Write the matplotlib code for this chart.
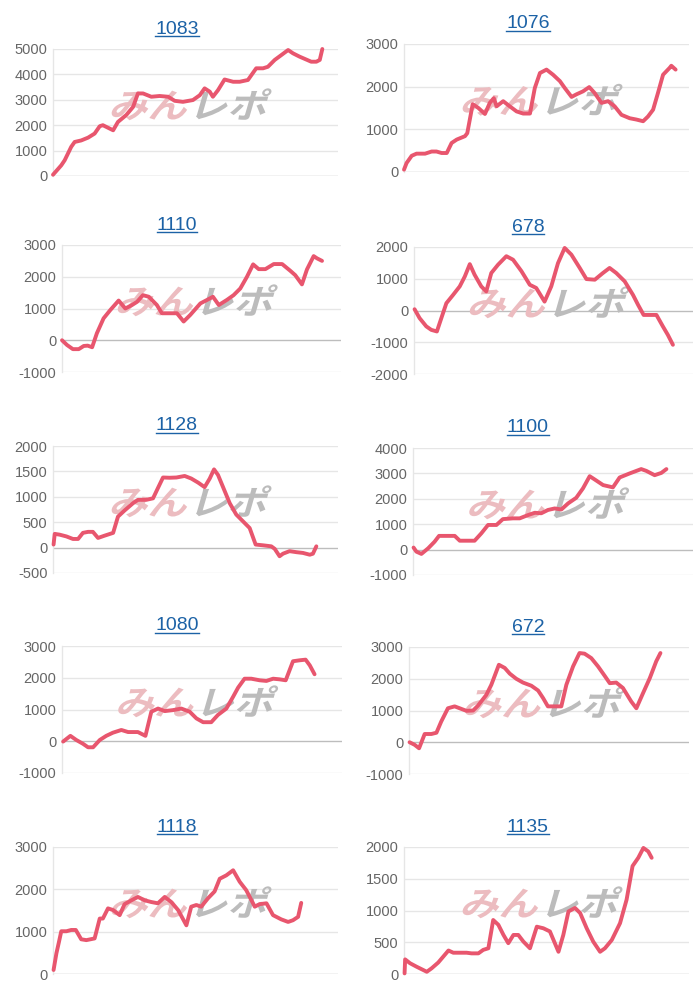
"""
Ten small profit charts (machine numbers) in a 5 x 2 grid
"""

import matplotlib
matplotlib.use('Agg')
import matplotlib.pyplot as plt
from matplotlib.lines import Line2D
from matplotlib.patches import PathPatch
from matplotlib.textpath import TextPath
from matplotlib.font_manager import FontProperties
from matplotlib.transforms import Affine2D, ScaledTranslation

# Chart titles (machine numbers)
titles = ['1083', '1076', '1110', '678', '1128', '1100', '1080', '672', '1118', '1135']

# x = position along the day (percent of the axis), y = difference in coins
x_1083 = [0, 2.9, 4.1, 6.4, 7.6, 9.9, 12.3, 14.6, 16.4, 17.5, 19.3, 21.1, 22.8, 25.7, 28.1,
          29.8, 31.6, 34.5, 37.4, 40.4, 42.7, 45.6, 49.1, 51.5, 53.2, 55.0, 56.1, 57.9, 60.2,
          63.2, 65.5, 68.4, 71.3, 73.7, 75.4, 77.8, 80.1, 82.5, 84.2, 86.5, 90.6, 92.4, 93.6, 94.5]
y_1083 = [50, 420, 620, 1150, 1340, 1400, 1510, 1670, 1960, 2000, 1900, 1800, 2130, 2400, 2720,
          3250, 3250, 3120, 3150, 3120, 2960, 2920, 2990, 3180, 3450, 3320, 3120, 3380, 3800,
          3710, 3710, 3780, 4240, 4240, 4300, 4570, 4760, 4960, 4830, 4700, 4500, 4500, 4570, 5000]

x_1076 = [0, 0.9, 2.7, 4.4, 7.4, 9.7, 11.4, 13.2, 15.0, 16.7, 18.5, 21.4, 22.2, 24.1, 26.1,
          28.4, 30.1, 31.5, 32.5, 34.8, 37.1, 39.5, 41.8, 44.2, 45.9, 47.7, 50.0, 52.3, 54.7,
          56.4, 58.8, 60.5, 62.8, 65.0, 66.9, 69.3, 71.6, 73.9, 76.3, 79.2, 81.5, 83.9, 85.6,
          87.4, 89.1, 90.9, 93.2, 93.8, 95.3]
y_1076 = [55, 210, 380, 430, 430, 480, 480, 445, 445, 680, 760, 840, 910, 1590, 1500,
          1360, 1620, 1730, 1540, 1660, 1540, 1420, 1370, 1370, 1970, 2320, 2400, 2280, 2130,
          1970, 1760, 1820, 1890, 1990, 1850, 1620, 1660, 1540, 1340, 1260, 1230, 1190, 1300,
          1460, 1850, 2280, 2440, 2490, 2400]

x_1110 = [0, 1.8, 3.9, 6.0, 7.8, 9.2, 10.8, 12.5, 14.9, 17.3, 20.3, 22.7, 25.1, 26.9, 29.0,
          31.1, 34.0, 35.8, 38.2, 41.2, 43.6, 46.0, 49.6, 52.0, 54.1, 56.2, 59.1, 61.5, 63.9,
          66.3, 68.5, 70.5, 72.9, 75.9, 78.9, 81.8, 83.6, 86.0, 87.8, 90.2, 91.4, 93.2]
y_1110 = [0, -150, -280, -280, -180, -170, -220, 220, 690, 950, 1250, 1000, 1110, 1210, 1420,
          1370, 1110, 850, 850, 850, 590, 800, 1160, 1270, 1370, 1110, 1270, 1420, 1630,
          2000, 2390, 2240, 2240, 2400, 2400, 2190, 2050, 1760, 2230, 2650, 2580, 2500]

x_678 = [0.2, 2.0, 4.4, 6.2, 8.2, 9.8, 11.6, 14.0, 16.4, 18.2, 20.0, 21.7, 24.1, 25.9, 27.7,
         30.1, 33.1, 35.5, 38.5, 41.5, 43.8, 46.8, 49.2, 51.6, 54.0, 56.4, 59.4, 61.8, 64.8,
         67.7, 70.1, 72.5, 75.5, 78.5, 80.3, 82.3, 84.5, 86.9, 89.2, 91.0, 92.8]
y_678 = [40, -240, -500, -610, -660, -240, 230, 490, 760, 1070, 1460, 1130, 760, 600, 1180,
         1440, 1710, 1600, 1240, 810, 710, 280, 760, 1490, 1970, 1760, 1340, 990, 970,
         1180, 1340, 1180, 920, 490, 180, -140, -140, -140, -500, -770, -1080]

x_1128 = [0.2, 0.6, 2.3, 4.7, 7.0, 8.8, 10.5, 12.3, 14.0, 15.8, 18.1, 21.1, 22.8, 25.1, 28.1,
          29.8, 32.7, 35.1, 36.8, 38.6, 40.9, 43.3, 46.2, 48.5, 50.9, 53.2, 55.0, 56.5, 57.9,
          59.6, 62.0, 64.3, 66.7, 69.0, 71.1, 73.7, 76.6, 77.8, 79.5, 80.7, 83.0, 85.4, 87.7,
          90.1, 91.2, 92.4]
y_1128 = [60, 270, 255, 220, 170, 170, 290, 310, 310, 190, 235, 290, 610, 730, 875,
          940, 940, 970, 1170, 1380, 1375, 1380, 1410, 1360, 1280, 1190, 1360, 1540, 1430,
          1200, 875, 650, 515, 385, 60, 45, 25, -25, -170, -120, -70, -90, -105,
          -140, -120, 25]

x_1100 = [0.2, 1.2, 3.0, 5.4, 7.7, 9.3, 11.9, 14.9, 16.7, 19.0, 22.0, 24.4, 26.8, 29.8, 32.1,
          35.7, 38.1, 41.1, 43.5, 45.8, 48.2, 50.6, 53.0, 55.4, 58.3, 60.7, 63.1, 64.9, 67.9,
          71.4, 73.8, 77.4, 81.5, 83.3, 86.3, 88.7, 90.5]
y_1100 = [80, -80, -170, 50, 310, 540, 540, 540, 350, 350, 350, 640, 970, 970, 1200,
          1230, 1230, 1360, 1450, 1430, 1560, 1620, 1580, 1820, 2040, 2410, 2890, 2760, 2540,
          2450, 2840, 3000, 3170, 3100, 2930, 3020, 3170]

x_1080 = [0.4, 3.0, 5.1, 7.5, 9.3, 11.1, 13.5, 15.8, 18.2, 21.2, 23.6, 27.1, 29.8, 31.9, 34.3,
          36.7, 39.6, 42.6, 45.6, 48.0, 50.4, 53.3, 55.7, 58.7, 61.1, 62.9, 65.2, 67.6, 70.6,
          73.0, 75.4, 77.7, 79.9, 82.5, 84.9, 87.0, 88.5, 90.2]
y_1080 = [-10, 170, 40, -80, -190, -190, 40, 170, 270, 355, 290, 290, 170, 930, 1030,
          950, 980, 1030, 930, 720, 600, 600, 830, 1030, 1400, 1690, 1970, 1970, 1920,
          1900, 1970, 1950, 1920, 2520, 2550, 2570, 2390, 2110]

x_672 = [0.2, 2.0, 3.6, 5.6, 8.0, 9.8, 11.5, 13.9, 16.3, 18.1, 20.5, 22.9, 24.6, 27.6, 29.4,
         32.1, 34.2, 36.0, 38.3, 40.7, 43.7, 46.1, 47.9, 49.6, 52.0, 54.4, 56.2, 58.6, 60.9,
         62.7, 65.1, 67.5, 69.9, 71.7, 74.0, 76.4, 79.4, 81.2, 83.6, 86.0, 88.3, 89.8]
y_672 = [0, -80, -190, 260, 260, 300, 650, 1070, 1130, 1070, 990, 1000, 1150, 1490, 1810,
         2440, 2340, 2160, 2000, 1880, 1780, 1630, 1390, 1130, 1130, 1130, 1810, 2390, 2810,
         2790, 2650, 2390, 2090, 1860, 1880, 1710, 1280, 1070, 1550, 2020, 2550, 2810]

x_1118 = [0.2, 1.2, 2.1, 2.9, 4.7, 6.4, 8.0, 9.9, 11.7, 14.6, 16.4, 17.5, 19.3, 21.1, 23.4,
          25.1, 27.5, 29.8, 32.2, 34.5, 36.8, 39.2, 41.5, 43.9, 46.8, 48.5, 50.3, 52.0, 54.4,
          56.7, 58.5, 60.8, 63.2, 65.5, 67.8, 70.8, 72.5, 74.9, 77.2, 80.1, 82.5, 84.2, 86.0, 87.1]
y_1118 = [95, 490, 760, 1010, 1010, 1040, 1040, 820, 800, 840, 1310, 1310, 1550, 1510, 1390,
          1650, 1740, 1820, 1740, 1700, 1670, 1820, 1700, 1510, 1150, 1590, 1630, 1590, 1790,
          1950, 2250, 2330, 2450, 2180, 1980, 1590, 1650, 1670, 1390, 1290, 1230, 1270, 1350, 1680]

x_1135 = [0.2, 0.4, 2.1, 4.4, 6.2, 8.0, 9.7, 12.0, 13.8, 15.6, 17.3, 19.6, 22.0, 23.7, 26.1,
          27.8, 29.6, 31.3, 33.1, 34.9, 36.6, 38.4, 40.1, 41.9, 44.2, 46.6, 48.9, 51.2, 54.2,
          55.9, 57.7, 60.0, 61.8, 64.1, 66.4, 68.8, 70.5, 72.9, 75.8, 78.1, 80.2, 82.2, 84.0,
          85.7, 86.9]
y_1135 = [10, 230, 170, 115, 75, 35, 90, 180, 275, 370, 335, 335, 335, 325, 325,
          380, 405, 850, 775, 615, 485, 615, 615, 510, 405, 745, 720, 670, 350, 615,
          985, 1040, 960, 720, 510, 350, 405, 535, 800, 1170, 1700, 1830, 1985, 1930, 1830]

xs = [x_1083, x_1076, x_1110, x_678, x_1128, x_1100, x_1080, x_672, x_1118, x_1135]
ys = [y_1083, y_1076, y_1110, y_678, y_1128, y_1100, y_1080, y_672, y_1118, y_1135]

# y axis range and step for each chart
y_mins = [0, 0, -1000, -2000, -500, -1000, -1000, -1000, 0, 0]
y_maxs = [5000, 3000, 3000, 2000, 2000, 4000, 3000, 3000, 3000, 2000]
y_steps = [1000, 1000, 1000, 1000, 500, 1000, 1000, 1000, 1000, 500]

# axes boxes in pixels: left, top, right, bottom (figure is 700 x 1000)
boxes = [(53, 49, 338, 176), (404, 44, 689, 172),
         (62, 245, 341, 372), (414, 247, 693, 374),
         (53, 446, 338, 573), (413, 448, 693, 575),
         (62, 646, 342, 773), (409, 647, 689, 774),
         (53, 847, 338, 974), (404, 847, 689, 974)]

W, H = 700, 1000
LINE = '#e8566e'
LINK = '#1c62a6'
GRID = '#e6e6e6'
ZERO = '#bdbdbd'
TICK = '#666666'

plt.rcParams['font.family'] = ['Liberation Sans', 'DejaVu Sans']

fig = plt.figure(figsize=(7, 10), dpi=100)
fig.patch.set_facecolor('white')

wm_font = FontProperties(family='Noto Sans CJK JP', weight='bold')


# Draw the faint site logo behind the line
def add_watermark(ax):
    p1 = TextPath((0, 0), 'みん', size=1, prop=wm_font)
    p2 = TextPath((0, 0), 'レポ', size=1, prop=wm_font)
    w1 = p1.get_extents().x1
    w2 = p2.get_extents().x1
    gap = 0.08
    total = w1 + gap + w2
    em = 0.34  # inches
    base = ScaledTranslation(0.48, 0.56, ax.transAxes)
    for path, dx, col in [(p1, 0, '#ecbcc0'), (p2, w1 + gap, '#bcbcbc')]:
        t = (Affine2D().translate(dx - total / 2, -0.38).skew_deg(14, 0).scale(em * 1.15, em)
             + fig.dpi_scale_trans + base)
        patch = PathPatch(path, transform=t, facecolor=col, edgecolor='none',
                          zorder=0.8, clip_on=False)
        ax.add_artist(patch)


title_texts = []
for i in range(10):
    l, t, r, b = boxes[i]
    ax = fig.add_axes([l / W, 1 - b / H, (r - l) / W, (b - t) / H])
    ax.set_facecolor('none')

    ax.plot(xs[i], ys[i], color=LINE, lw=2.8, solid_joinstyle='round',
            solid_capstyle='round', zorder=3, clip_on=False)

    ticks = list(range(y_mins[i], y_maxs[i] + 1, y_steps[i]))
    ax.set_yticks(ticks)
    ax.set_yticklabels([str(v) for v in ticks])
    ax.set_ylim(y_mins[i], y_maxs[i])
    ax.set_xlim(0, 100)
    ax.set_xticks([])

    # horizontal grid, darker zero line
    for v in ticks:
        ax.axhline(v, color=ZERO if v == 0 else GRID, lw=1.0, zorder=0.5)

    for side in ['top', 'right', 'bottom']:
        ax.spines[side].set_visible(False)
    ax.spines['left'].set_color(GRID)
    ax.spines['left'].set_linewidth(1.0)
    ax.tick_params(axis='y', length=0, pad=4, labelsize=10.5, labelcolor=TICK)

    add_watermark(ax)

    # title above the chart, centred on the column
    cx = 177 if i % 2 == 0 else 528
    base_y = t - 15.5
    txt = fig.text(cx / W, 1 - base_y / H, titles[i], ha='center', va='baseline',
                   fontsize=14, color=LINK)
    title_texts.append((txt, base_y))

# underline the titles like links
fig.canvas.draw()
renderer = fig.canvas.get_renderer()
for txt, base_y in title_texts:
    bb = txt.get_window_extent(renderer)
    uy = 1 - (base_y + 2.2) / H
    fig.add_artist(Line2D([bb.x0 / W, bb.x1 / W], [uy, uy], transform=fig.transFigure,
                          color=LINK, lw=1.0))

fig.savefig('out.png', dpi=100)
